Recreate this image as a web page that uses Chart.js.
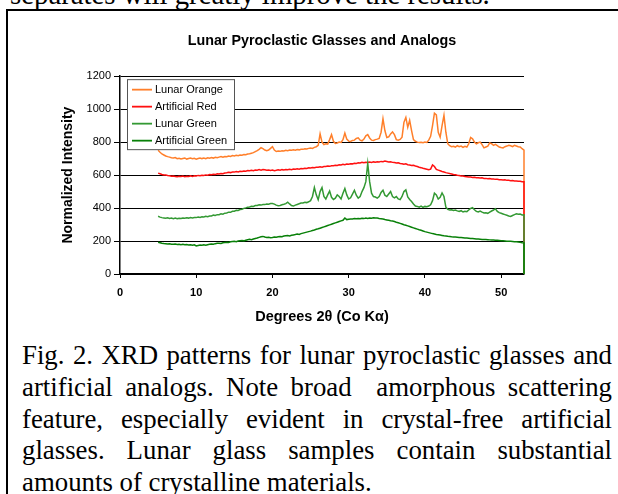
<!DOCTYPE html>
<html>
<head>
<meta charset="utf-8">
<script src="https://cdn.jsdelivr.net/npm/chart.js@4/dist/chart.umd.min.js"></script>
<style>
html,body{margin:0;padding:0;background:#fff;width:618px;height:494px;overflow:hidden;position:relative;}
#frame{position:absolute;left:6px;top:9px;width:700px;height:600px;border-left:2px solid #000;border-top:2px solid #000;}
#chart{position:absolute;left:0;top:0;}
.serif{font-family:"Liberation Serif","Times New Roman",serif;font-size:26.8px;line-height:31.8px;color:#000;position:absolute;white-space:nowrap;}
#prev{left:10px;top:-21px;font-size:28.8px;}
#cap{left:22px;top:340px;width:590px;}
#cap div{text-align:justify;text-align-last:justify;}
#cap div.last{text-align-last:left;}
</style>
</head>
<body>
<div id="prev" class="serif">separates will greatly improve the results.</div>
<div id="frame"></div>
<canvas id="chart" width="618" height="330"></canvas>
<div id="cap" class="serif">
<div>Fig. 2. XRD patterns for lunar pyroclastic glasses and</div>
<div>artificial analogs. Note broad&nbsp; amorphous scattering</div>
<div>feature, especially evident in crystal-free artificial</div>
<div>glasses. Lunar glass samples contain substantial</div>
<div class="last">amounts of crystalline materials.</div>
</div>
<script>
const chartTitle = "Lunar Pyroclastic Glasses and Analogs";
const xTitle = "Degrees 2\u03b8 (Co K\u03b1)";
const yTitle = "Normalized Intensity";
const seriesNames = ["Lunar Orange", "Artificial Red", "Lunar Green", "Artificial Green"];

// 2-theta positions (degrees); the last entry closes each trace at the right edge
const twoTheta = [
5,5.25,5.5,5.75, 6,6.25,6.5,6.75, 7,7.25,7.5,7.75, 8,8.25,8.5,8.75, 9,9.25,9.5,9.75,
10,10.25,10.5,10.75, 11,11.25,11.5,11.75, 12,12.25,12.5,12.75, 13,13.25,13.5,13.75, 14,14.25,14.5,14.75,
15,15.25,15.5,15.75, 16,16.25,16.5,16.75, 17,17.25,17.5,17.75, 18,18.25,18.5,18.75, 19,19.25,19.5,19.75,
20,20.25,20.5,20.75, 21,21.25,21.5,21.75, 22,22.25,22.5,22.75, 23,23.25,23.5,23.75, 24,24.25,24.5,24.75,
25,25.25,25.5,25.75, 26,26.25,26.5,26.75, 27,27.25,27.5,27.75, 28,28.25,28.5,28.75, 29,29.25,29.5,29.75,
30,30.25,30.5,30.75, 31,31.25,31.5,31.75, 32,32.25,32.5,32.75, 33,33.25,33.5,33.75, 34,34.25,34.5,34.75,
35,35.25,35.5,35.75, 36,36.25,36.5,36.75, 37,37.25,37.5,37.75, 38,38.25,38.5,38.75, 39,39.25,39.5,39.75,
40,40.25,40.5,40.75, 41,41.25,41.5,41.75, 42,42.25,42.5,42.75, 43,43.25,43.5,43.75, 44,44.25,44.5,44.75,
45,45.25,45.5,45.75, 46,46.25,46.5,46.75, 47,47.25,47.5,47.75, 48,48.25,48.5,48.75, 49,49.25,49.5,49.75,
50,50.25,50.5,50.75, 51,51.25,51.5,51.75, 52,52.25,52.5,52.75, 53,53
];

const lunarOrange = [
750,738,728,722, 716,712,709,705, 703,706,699,702, 698,701,704,697, 700,703,699,702,
697,701,704,700, 703,699,705,702, 706,703,708,705, 709,712,708,713, 711,716,713,718,
716,720,718,722, 721,725,723,728, 730,733,736,742, 748,756,766,760, 752,748,752,762,
772,752,743,746, 744,748,746,750, 748,752,750,753, 751,755,753,757, 756,760,758,762,
764,762,768,772, 780,850,800,785, 790,788,815,845, 805,792,795,800, 798,815,855,818,
806,804,810,812, 822,826,812,808, 818,838,846,825, 812,810,815,818, 822,860,942,870,
828,832,850,862, 845,815,812,816, 830,920,950,890, 932,870,815,805, 800,797,799,796,
800,798,812,835, 900,975,965,860, 830,900,962,860, 790,778,772,775, 770,778,772,776,
768,774,770,790, 828,820,800,790, 796,800,785,765, 770,775,795,790, 780,786,778,770,
767,765,772,776, 781,778,772,780, 776,772,770,760, 752,0
];

const artificialRed = [
612,608,604,601, 600,597,596,593, 594,592,590,593, 591,594,590,593, 592,595,591,596,
594,598,596,599, 597,601,599,603, 602,605,603,608, 607,610,608,613, 614,617,615,619,
618,621,619,623, 622,625,623,627, 626,629,627,631, 630,633,630,634, 632,629,631,628,
630,627,629,632, 630,633,631,634, 632,635,633,637, 635,638,636,640, 639,642,640,644,
643,646,644,648, 647,650,648,652, 652,655,653,657, 656,659,658,662, 661,665,663,667,
666,669,668,672, 671,674,673,677, 675,678,676,679, 677,680,678,681, 680,683,681,685,
682,679,681,677, 676,673,675,670, 669,666,668,663, 661,658,660,655, 652,648,645,641,
638,635,632,636, 662,652,634,630, 626,622,619,615, 612,609,607,604, 602,599,598,595,
594,591,590,588, 588,586,587,584, 584,582,583,580, 580,578,579,576, 576,574,575,572,
572,570,571,568, 568,566,567,564, 564,562,563,560, 560,0
];

const lunarGreen = [
350,345,342,340, 338,341,337,339, 336,339,335,338, 337,340,338,341, 339,342,340,343,
342,345,343,347, 346,350,348,352, 352,357,355,360, 360,365,363,369, 370,375,374,380,
381,386,385,391, 393,398,401,405, 407,411,410,415, 416,420,418,422, 421,425,423,427,
428,424,418,414, 416,420,423,427, 436,425,415,412, 418,422,426,430, 431,435,433,438,
445,470,524,480, 450,500,524,470, 455,480,503,465, 452,460,480,470, 455,490,518,480,
455,462,485,508, 478,460,470,500, 524,560,670,560, 490,470,467,460, 470,495,508,478,
470,485,500,470, 462,470,455,451, 470,500,510,468, 452,440,425,412, 410,405,412,404,
410,408,412,420, 445,490,480,455, 465,492,470,405, 392,388,390,385, 388,383,380,384,
376,380,378,388, 398,402,390,380, 376,382,375,370, 372,368,375,382, 388,396,380,372,
368,364,360,356, 352,349,355,360, 365,362,364,358, 359,0
];

const artificialGreen = [
193,190,187,185, 184,182,184,181, 180,182,179,181, 178,180,177,179, 176,178,175,177,
170,173,176,174, 177,175,178,180, 182,180,184,186, 187,185,189,191, 193,191,195,197,
198,196,200,202, 203,201,205,208, 210,208,212,215, 218,222,226,228, 224,221,223,220,
222,225,223,226, 228,226,230,232, 233,231,235,237, 239,242,240,245, 248,251,254,257,
260,264,267,271, 274,278,282,286, 290,294,298,302, 306,310,314,318, 322,326,340,330,
332,334,333,336, 335,337,335,338, 336,339,337,340, 338,341,339,340, 337,335,333,330,
328,326,323,321, 318,314,311,307, 303,299,296,292, 288,284,280,276, 272,268,265,261,
257,254,251,248, 245,243,240,238, 236,234,232,231, 229,228,226,225, 224,223,222,221,
220,219,218,217, 216,215,214,213, 212,211,210,209, 209,208,207,206, 206,205,204,203,
202,201,200,199, 199,198,197,196, 195,194,192,190, 189,0
];

const yTicksMax = 1200, yStep = 200, xMax = 53, xStep = 10;

const FONT = "'Liberation Sans', Arial, sans-serif";
const colors = ["#FF7F2A", "#FF1010", "#339933", "#088008"];

function toPoints(vals){ return twoTheta.map((x,i)=>({x:x, y:vals[i]})); }

const legendBox = {
  id:'legendBox',
  afterDraw(chart){
    const ctx = chart.ctx, a = chart.chartArea;
    const x0 = a.left + 7, y0 = a.top + 3, w = 107, h = 70;
    ctx.save();
    ctx.fillStyle = '#fff';
    ctx.fillRect(x0, y0, w, h);
    ctx.strokeStyle = '#555';
    ctx.lineWidth = 1;
    ctx.strokeRect(x0 + 0.5, y0 + 0.5, w, h);
    ctx.font = "11px " + FONT;
    ctx.textBaseline = 'middle';
    ctx.textAlign = 'left';
    chart.data.datasets.forEach((d, i) => {
      const y = y0 + 10.5 + i * 17;
      ctx.strokeStyle = d.borderColor;
      ctx.lineWidth = 1.8;
      ctx.beginPath(); ctx.moveTo(x0 + 5, y); ctx.lineTo(x0 + 25, y); ctx.stroke();
      ctx.fillStyle = '#000';
      ctx.fillText(d.label, x0 + 28, y + 0.5);
    });
    ctx.restore();
  }
};

const clipBox = {left: 0, top: 0, right: 2, bottom: 0};

new Chart(document.getElementById('chart'), {
  type: 'line',
  data: {
    datasets: [
      {label: seriesNames[0], data: toPoints(lunarOrange), borderColor: colors[0], order: 4, clip: clipBox},
      {label: seriesNames[1], data: toPoints(artificialRed), borderColor: colors[1], order: 3, clip: clipBox},
      {label: seriesNames[2], data: toPoints(lunarGreen), borderColor: colors[2], order: 2, clip: clipBox},
      {label: seriesNames[3], data: toPoints(artificialGreen), borderColor: colors[3], order: 1, clip: clipBox}
    ]
  },
  options: {
    responsive: false,
    animation: false,
    devicePixelRatio: 1,
    layout: {padding: {left: 0, right: 94, top: 0, bottom: 0}},
    elements: {point: {radius: 0}, line: {borderWidth: 1.5, tension: 0, fill: false}},
    plugins: {
      legend: {display: false},
      tooltip: {enabled: false},
      title: {display: true, text: chartTitle, fullSize: false, color: '#000',
              font: {family: FONT, size: 14.3, weight: 'bold'}, padding: {top: 32, bottom: 27}}
    },
    scales: {
      x: {
        type: 'linear', min: 0, max: xMax,
        afterFit(s){ s.height = 56; },
        ticks: {stepSize: xStep, includeBounds: false, color: '#000', maxRotation: 0,
                font: {family: FONT, size: 11, weight: 'bold'}, padding: 8,
                callback: (v) => String(v)},
        grid: {display: true, drawOnChartArea: false, drawTicks: true, tickLength: 4, color: '#000'},
        border: {display: true, color: '#000', width: 1.5},
        title: {display: true, text: xTitle, color: '#000',
                font: {family: FONT, size: 14.5, weight: 'bold'}, padding: {top: 0, bottom: 4}}
      },
      y: {
        min: 0, max: yTicksMax,
        afterFit(s){ s.width = 120; },
        ticks: {stepSize: yStep, color: '#000', font: {family: FONT, size: 11}, padding: 3,
                callback: (v) => String(v)},
        grid: {color: '#000', lineWidth: 1, tickLength: 6},
        border: {display: true, color: '#000', width: 1.5},
        title: {display: true, text: yTitle, color: '#000',
                font: {family: FONT, size: 14, weight: 'bold'}, padding: {top: 60, bottom: 0}}
      }
    }
  },
  plugins: [legendBox]
});
</script>
</body>
</html>
